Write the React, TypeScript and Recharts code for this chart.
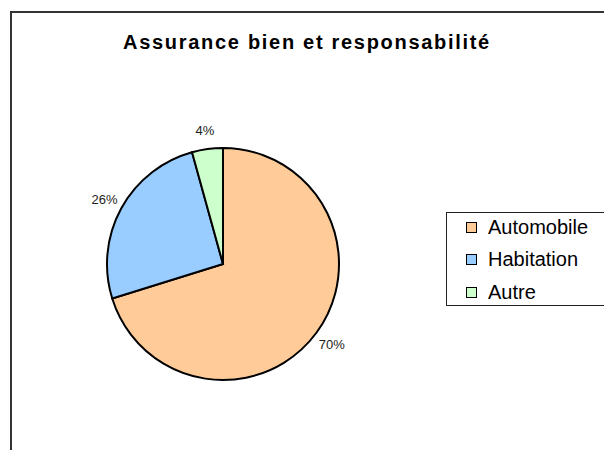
import React from 'react';
import { PieChart, Pie, Cell, Legend } from 'recharts';

const categories = ['Automobile', 'Habitation', 'Autre'];
const shares = [70.2, 25.5, 4.3];
const colors = ['#FFCC99', '#99CCFF', '#CCFFCC'];

const data = categories.map((name, i) => ({ name, value: shares[i] }));

const RAD = Math.PI / 180;

const renderLabel = (props: any) => {
  const { cx, cy, midAngle, outerRadius, percent } = props;
  const r = outerRadius + 19;
  const x = cx + r * Math.cos(-midAngle * RAD);
  const y = cy + r * Math.sin(-midAngle * RAD);
  return (
    <text
      x={x}
      y={y}
      textAnchor="middle"
      dominantBaseline="central"
      fill="#222"
      fontSize={13}
      fontFamily="'Liberation Sans', Arial, sans-serif"
    >
      {`${Math.round(percent * 100)}%`}
    </text>
  );
};

const LegendBox = () => (
  <div
    style={{
      border: '1px solid #222',
      width: 170,
      height: 94,
      boxSizing: 'border-box',
      paddingLeft: 19,
      fontFamily: "'Liberation Sans', Arial, sans-serif",
      fontSize: 20,
      color: '#000',
      background: '#fff',
    }}
  >
    <div style={{ marginTop: -2 }}>
      {categories.map((name, i) => (
        <div key={name} style={{ display: 'flex', alignItems: 'center', height: 32.5 }}>
          <span
            style={{
              display: 'inline-block',
              width: 9,
              height: 9,
              background: colors[i],
              border: '1.5px solid #000',
              marginRight: 11,
            }}
          />
          <span>{name}</span>
        </div>
      ))}
    </div>
  </div>
);

export default function App() {
  return (
    <div
      style={{
        position: 'absolute',
        left: 0,
        top: 0,
        width: 604,
        height: 450,
        overflow: 'hidden',
        background: '#fff',
      }}
    >
      {/* chart frame, runs off the right and bottom edges */}
      <div
        style={{
          position: 'absolute',
          left: 10,
          top: 11,
          width: 640,
          height: 480,
          border: '2px solid #333',
        }}
      />
      <div
        style={{
          position: 'absolute',
          left: 0,
          width: 614,
          top: 32,
          textAlign: 'center',
          fontFamily: "'Liberation Sans', Arial, sans-serif",
          fontWeight: 'bold',
          fontSize: 20,
          letterSpacing: 1.7,
          lineHeight: '20px',
          color: '#000',
        }}
      >
        Assurance bien et responsabilité
      </div>
      <div style={{ position: 'absolute', left: 0, top: 0 }}>
        <PieChart width={604} height={450}>
          <Pie
            data={data}
            dataKey="value"
            nameKey="name"
            cx={218}
            cy={259}
            outerRadius={116}
            startAngle={90}
            endAngle={-270}
            stroke="#000"
            strokeWidth={2}
            label={renderLabel}
            labelLine={false}
            isAnimationActive={false}
          >
            {data.map((d, i) => (
              <Cell key={d.name} fill={colors[i]} />
            ))}
          </Pie>
          <Legend
            content={() => <LegendBox />}
            wrapperStyle={{ position: 'absolute', left: 446, top: 212, width: 170 }}
          />
        </PieChart>
      </div>
    </div>
  );
}
